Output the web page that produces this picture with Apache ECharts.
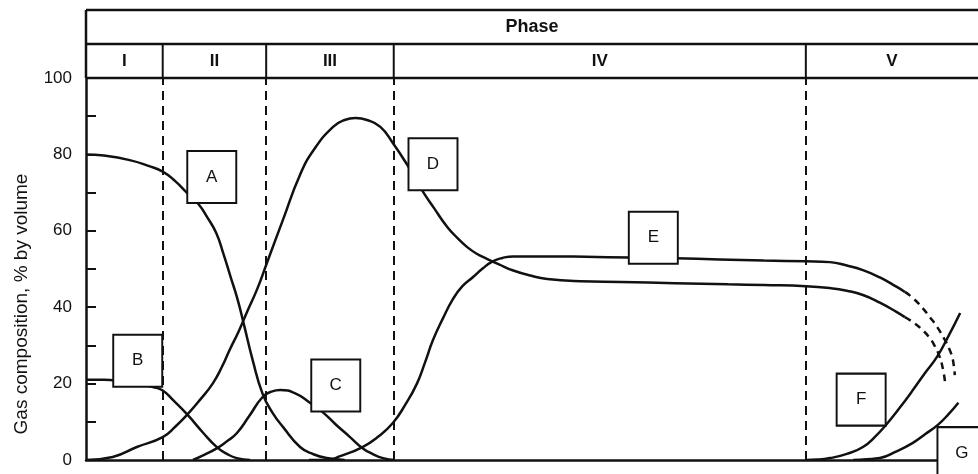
<!DOCTYPE html>
<html>
<head>
<meta charset="utf-8">
<script src="https://cdn.jsdelivr.net/npm/echarts@6/dist/echarts.min.js"></script>
<style>
  html, body { margin: 0; padding: 0; background: #fff; }
  #chart { width: 978px; height: 474px; }
</style>
</head>
<body>
<div id="chart"></div>
<script>
// time axis runs 0..100 (arbitrary units), values are % by volume
const phaseNames = ['I', 'II', 'III', 'IV', 'V'];
const phaseBounds = [8.6, 20.2, 34.5, 80.7];

const curveA = [[0, 80], [2, 79.7], [4.9, 78.5], [7, 77], [8.6, 75.5], [10, 73], [11.3, 70], [12.6, 67],
  [13.6, 63.5], [14.6, 59.4], [15.4, 54], [16.2, 48], [17, 42], [17.7, 35.5], [18.7, 26], [19.8, 17.3],
  [20.9, 12.4], [22.1, 8.6], [24, 3.4], [25.5, 1.5], [27, 0.5], [29, 0]];
const curveB = [[0, 21], [2, 21], [4, 20.6], [6, 19.9], [7.5, 19.1], [8.6, 18.2], [9.8, 15.6], [11.4, 11.8],
  [13.1, 7.2], [14.7, 3.3], [15.8, 1.6], [16.9, 0.5], [18.4, 0]];
const curveC = [[12, 0], [13.3, 1.4], [14.7, 3.1], [15.8, 4.9], [16.9, 7], [18.3, 11.5], [19.8, 16.5],
  [20.8, 17.9], [21.8, 18.3], [23.4, 17.5], [25.1, 15], [26.5, 12.6], [28, 9.3], [29.6, 6], [31, 3.1],
  [32.2, 1.5], [33.3, 0.5], [34.6, 0]];
const curveD = [[0, 0], [3, 0.8], [5.7, 3.4], [8.6, 6], [10, 8.7], [11.4, 12], [12.8, 15.8], [14.2, 20],
  [15.2, 24.2], [16.1, 28.8], [17.1, 33.6], [18.1, 39], [19.2, 44.8], [20.3, 51.7], [22.1, 63], [24, 74.7],
  [25.6, 81.4], [27.7, 87.2], [29, 89], [30.2, 89.5], [31.5, 89], [33, 87.2], [34.4, 83], [36, 77.3],
  [37.7, 70.5], [39, 66], [40.5, 61], [41.6, 58.2], [42.7, 55.8], [43.8, 54], [45, 52.6], [46.3, 51.2],
  [47.9, 49.6], [49.8, 48.3], [51.7, 47.4], [55.4, 46.8], [60, 46.6], [66, 46.3], [72, 46], [76, 45.8],
  [80.7, 45.5], [83.4, 45], [85.3, 44.3], [87.1, 43.2], [89, 41.2], [90.9, 38.7], [91.8, 37.4]];
const curveDTail = [[91.8, 37.4], [92.7, 36.1], [93.7, 34.2], [94.6, 31.9], [95.2, 29.6], [95.7, 27],
  [96.1, 23.5], [96.3, 20.4]];
const curveE = [[25, 0], [27, 0], [28.5, 1], [31, 3.4], [32.7, 6], [34.4, 9.7], [35.8, 14.5], [37.1, 20],
  [38, 25.5], [38.9, 31.4], [40, 37], [41.1, 42], [42.2, 45.5], [43.4, 47.9], [44.5, 50.2], [45.6, 52],
  [46.7, 52.9], [47.9, 53.3], [51.7, 53.3], [56, 53.2], [61, 53], [66, 52.8], [71, 52.5], [76, 52.2],
  [80.7, 52], [83.4, 51.8], [85.3, 50.9], [87.1, 49.7], [89, 47.8], [90.9, 45.3], [91.8, 44]];
const curveETail = [[91.8, 44], [92.7, 42.4], [93.7, 40], [94.6, 37.4], [95.4, 34.9], [96.1, 32.2],
  [96.7, 29.5], [97.1, 27], [97.3, 24.5], [97.4, 22.2]];
const curveF = [[80.7, 0], [82, 0.1], [83.4, 0.5], [85.3, 1.6], [87.1, 3.4], [88.5, 6.2], [89.8, 9.5],
  [91.2, 13.6], [92.7, 18.3], [94, 22.6], [95.4, 27], [96.7, 32.5], [98, 38.5]];
const curveG = [[86, 0], [87.5, 0.2], [89, 0.5], [90.8, 2.2], [92.7, 4.5], [94.1, 6.8], [95.5, 9.2],
  [96.7, 12], [97.8, 15]];

// letter boxes (centre in chart units)
const boxLetters = ['A', 'B', 'C', 'D', 'E', 'F', 'G'];
const boxX = [14.1, 5.8, 28.0, 38.9, 63.6, 86.9, 98.2];
const boxY = [74.1, 26.0, 19.5, 77.4, 58.2, 15.8, 1.8];

const ink = '#111';
const font = '"Liberation Sans", Arial, sans-serif';

function curve(data, dashed) {
  return {
    type: 'line',
    data: data,
    smooth: 0.5,
    symbol: 'none',
    silent: true,
    lineStyle: { color: ink, width: 2.5, type: dashed ? [7, 5] : 'solid' }
  };
}

const chart = echarts.init(document.getElementById('chart'));

const seriesList = [curveA, curveB, curveC, curveD, curveE, curveF, curveG].map(d => curve(d, false));
seriesList.push(curve(curveDTail, true), curve(curveETail, true));
seriesList[0].markLine = {
  silent: true,
  symbol: ['none', 'none'],
  label: { show: false },
  lineStyle: { color: ink, width: 2, type: [9, 6] },
  data: phaseBounds.map(x => ({ xAxis: x }))
};
seriesList.push({
  type: 'scatter',
  z: 5,
  silent: true,
  symbol: 'rect',
  symbolSize: [49, 52],
  itemStyle: { color: '#fff', opacity: 1, borderColor: ink, borderWidth: 2 },
  label: { show: true, position: 'inside', color: ink, fontSize: 17, fontFamily: font,
    formatter: p => boxLetters[p.dataIndex] },
  data: boxX.map((x, i) => [x, boxY[i]])
});

chart.setOption({
  animation: false,
  backgroundColor: '#fff',
  grid: { left: 86, right: 0, top: 78, bottom: 14 },
  xAxis: {
    type: 'value', min: 0, max: 100,
    axisLine: { show: true, onZero: false, lineStyle: { color: ink, width: 2.5 } },
    axisTick: { show: false }, axisLabel: { show: false }, splitLine: { show: false }
  },
  yAxis: {
    type: 'value', min: 0, max: 100, interval: 10,
    axisLine: { show: true, lineStyle: { color: ink, width: 2.5 } },
    axisTick: { show: true, inside: true, length: 10, lineStyle: { color: ink, width: 2 } },
    axisLabel: { color: ink, fontSize: 17, fontFamily: font, margin: 14,
      formatter: v => (v % 20 === 0 ? String(v) : '') },
    splitLine: { show: false }
  },
  series: seriesList
});

// phase header above the plot, positioned from the x axis
const left = chart.convertToPixel({ xAxisIndex: 0 }, 0);
const right = 978;
const headTop = 10, headMid = 44, headBot = 78;
const edges = [left].concat(phaseBounds.map(b => chart.convertToPixel({ xAxisIndex: 0 }, b)), [right]);
const hline = y => ({ type: 'line', shape: { x1: left, y1: y, x2: right, y2: y }, style: { stroke: ink, lineWidth: 2.5 } });
const graphics = [hline(headTop), hline(headMid), hline(headBot),
  { type: 'line', shape: { x1: left, y1: headTop, x2: left, y2: headBot }, style: { stroke: ink, lineWidth: 2.5 } },
  { type: 'text', x: (left + right) / 2, y: (headTop + headMid) / 2,
    style: { text: 'Phase', fill: ink, font: 'bold 18px ' + font, align: 'center', verticalAlign: 'middle' } },
  { type: 'text', x: 22, y: 304, rotation: Math.PI / 2,
    style: { text: 'Gas composition, % by volume', fill: ink, font: '19px ' + font, align: 'center', verticalAlign: 'middle' } }
];
for (let i = 1; i < edges.length - 1; i++) {
  graphics.push({ type: 'line', shape: { x1: edges[i], y1: headMid, x2: edges[i], y2: headBot },
    style: { stroke: ink, lineWidth: 2 } });
}
phaseNames.forEach((name, i) => {
  graphics.push({ type: 'text', x: (edges[i] + edges[i + 1]) / 2, y: (headMid + headBot) / 2,
    style: { text: name, fill: ink, font: 'bold 17px ' + font, align: 'center', verticalAlign: 'middle' } });
});
chart.setOption({ graphic: graphics });
</script>
</body>
</html>
